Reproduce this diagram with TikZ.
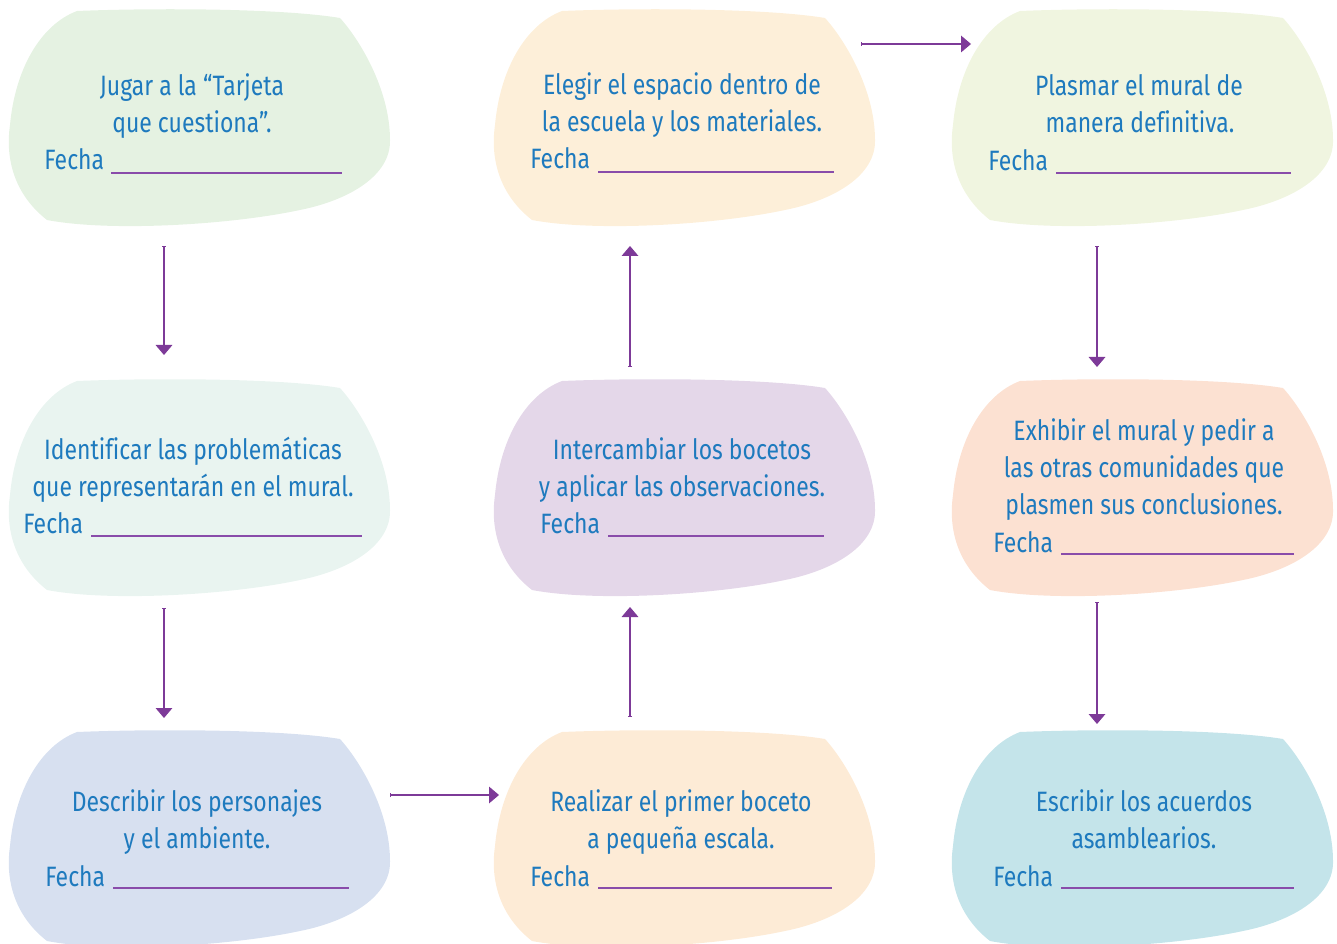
\documentclass[tikz,border=0pt]{standalone}
\usepackage{fontspec}
\setmainfont{Fira Sans}[FakeStretch=0.82,Ligatures=NoCommon]
\usetikzlibrary{arrows.meta}
\definecolor{txtblue}{RGB}{30,122,190}
\definecolor{arrpurple}{RGB}{125,58,152}
\definecolor{linepurple}{RGB}{137,76,170}
\definecolor{cA}{RGB}{229,242,226}
\definecolor{cB}{RGB}{233,244,240}
\definecolor{cC}{RGB}{215,224,240}
\definecolor{cD}{RGB}{253,239,217}
\definecolor{cE}{RGB}{228,215,233}
\definecolor{cF}{RGB}{253,235,214}
\definecolor{cG}{RGB}{240,245,224}
\definecolor{cH}{RGB}{252,225,210}
\definecolor{cI}{RGB}{196,228,234}
\newcommand\myblob[3]{%
  \fill[#3, shift={(#1,#2)}] (77,11) .. controls (150,8) and (280,8) .. (340,18)
    .. controls (360,40) and (390,90) .. (390,140)
    .. controls (391,175) and (350,200) .. (300,210)
    .. controls (230,225) and (110,232) .. (47,220)
    .. controls (15,195) and (5,160) .. (10,125)
    .. controls (15,70) and (40,25) .. (77,11) -- cycle;}
\begin{document}
\begin{tikzpicture}[x=0.75pt,y=-0.75pt,
  txt/.style={text=txtblue, inner sep=0pt, font=\fontsize{21}{27.75}\selectfont, anchor=base},
  fecha/.style={txt, anchor=base west},
  uline/.style={draw=linepurple, line width=0.8pt},
  flow/.style={draw=arrpurple, line width=0.8pt, {Bar[width=3pt,line width=0.6pt]}-{Triangle[width=12.5pt,length=7.5pt]}}]
\useasboundingbox (0,0) rectangle (1337,944);
\clip (0,0) rectangle (1337,944);
% blobs
\myblob{0}{0}{cA}
\myblob{0}{370}{cB}
\myblob{0}{721}{cC}
\myblob{485}{0}{cD}
\myblob{485}{370}{cE}
\myblob{485}{721}{cF}
\myblob{943}{0}{cG}
\myblob{943}{370}{cH}
\myblob{943}{721}{cI}
% box 1
\node[txt] (t11a) at (192,96) {Jugar a la “Tarjeta};
\node[txt] (t11b) at (192,133) {que cuestiona”.};
\node[fecha] (f11) at (44,170) {Fecha};
\draw[uline] (111,173) -- (342,173);
% box col2 row1
\node[txt] (t21a) at (682,95) {Elegir el espacio dentro de};
\node[txt] (t21b) at (682,132) {la escuela y los materiales.};
\node[fecha] (f21) at (530,169) {Fecha};
\draw[uline] (598,172) -- (834,172);
% box col3 row1
\node[txt] (t31a) at (1139,96) {Plasmar el mural de};
\node[txt] (t31b) at (1140,133) {manera definitiva.};
\node[fecha] (f31) at (988,171) {Fecha};
\draw[uline] (1056,173) -- (1291,173);
% box col1 row2
\node[txt] (t12a) at (193,459) {Identificar las problemáticas};
\node[txt] (t12b) at (193,496) {que representarán en el mural.};
\node[fecha] (f12) at (23,533) {Fecha};
\draw[uline] (91,536) -- (362,536);
% box col2 row2
\node[txt] (t22a) at (682,459) {Intercambiar los bocetos};
\node[txt] (t22b) at (682,496) {y aplicar las observaciones.};
\node[fecha] (f22) at (540,533) {Fecha};
\draw[uline] (608,536) -- (824,536);
% box col3 row2
\node[txt] (t32a) at (1144,440) {Exhibir el mural y pedir a};
\node[txt] (t32b) at (1144,477) {las otras comunidades que};
\node[txt] (t32c) at (1144,514) {plasmen sus conclusiones.};
\node[fecha] (f32) at (993,552) {Fecha};
\draw[uline] (1061,554) -- (1294,554);
% box col1 row3
\node[txt] (t13a) at (197,811) {Describir los personajes};
\node[txt] (t13b) at (197,848) {y el ambiente.};
\node[fecha] (f13) at (45,886) {Fecha};
\draw[uline] (113,888) -- (349,888);
% box col2 row3
\node[txt] (t23a) at (681,811) {Realizar el primer boceto};
\node[txt] (t23b) at (681,848) {a pequeña escala.};
\node[fecha] (f23) at (530,886) {Fecha};
\draw[uline] (598,888) -- (832,888);
% box col3 row3
\node[txt] (t33a) at (1144,811) {Escribir los acuerdos};
\node[txt] (t33b) at (1144,848) {asamblearios.};
\node[fecha] (f33) at (993,886) {Fecha};
\draw[uline] (1061,888) -- (1294,888);
% arrow ends
\coordinate (a1s) at (164,246); \coordinate (a1e) at (164,355);
\coordinate (a2s) at (164,608); \coordinate (a2e) at (164,718);
\coordinate (a3s) at (390,795); \coordinate (a3e) at (499,795);
\coordinate (a4s) at (630,717); \coordinate (a4e) at (630,607);
\coordinate (a5s) at (630,367); \coordinate (a5e) at (630,246);
\coordinate (a6s) at (861,44);  \coordinate (a6e) at (971,44);
\coordinate (a7s) at (1097,246); \coordinate (a7e) at (1097,367);
\coordinate (a8s) at (1097,602); \coordinate (a8e) at (1097,724);
\draw[flow] (a1s) -- (a1e);
\draw[flow] (a2s) -- (a2e);
\draw[flow] (a3s) -- (a3e);
\draw[flow] (a4s) -- (a4e);
\draw[flow] (a5s) -- (a5e);
\draw[flow] (a6s) -- (a6e);
\draw[flow] (a7s) -- (a7e);
\draw[flow] (a8s) -- (a8e);
\end{tikzpicture}
\end{document}
